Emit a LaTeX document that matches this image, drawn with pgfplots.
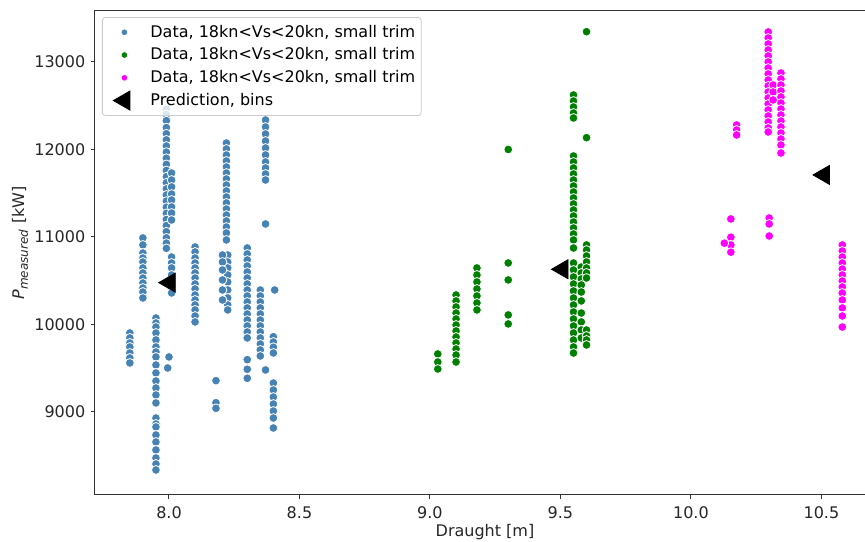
\documentclass[border=0pt]{standalone}
\usepackage{fontspec}
\setmainfont{DejaVu Sans}
\usepackage{pgfplots}
\pgfplotsset{compat=1.18}
\definecolor{sblue}{HTML}{4682B4}
\definecolor{dgreen}{HTML}{008000}
\definecolor{mag}{HTML}{FF00FF}
\begin{document}
\fontsize{8}{9.6}\selectfont
\begin{tikzpicture}
\begin{axis}[
  name=ax,
  scale only axis,
  width=385pt, height=242.5pt,
  xmin=7.7165, xmax=10.667,
  ymin=8051, ymax=13594,
  separate axis lines,
  axis x line=box, axis y line=left,
  axis line style={-, draw=black!80, line width=0.5pt},
  xtick={8,8.5,9,9.5,10,10.5},
  ytick={9000,10000,11000,12000,13000},
  xtick pos=left, ytick pos=left,
  tick align=outside, major tick length=2pt,
  tick style={black!80, line width=0.5pt},
  scaled ticks=false,
  /pgf/number format/assume math mode=true,
  xticklabel style={/pgf/number format/fixed, /pgf/number format/fixed zerofill, /pgf/number format/precision=1, yshift=-1pt},
  yticklabel style={/pgf/number format/1000 sep={}},
  ticklabel style={font=\fontsize{8}{9.6}\selectfont, text=black!85},
  xlabel={Draught [m]},
  ylabel={\textit{P}\textsubscript{\textit{measured}} [kW]},
  xlabel style={at={(axis description cs:0.5065,-0.0763)}, anchor=center, font=\fontsize{8}{9.6}\selectfont, text=black!85},
  ylabel style={at={(axis description cs:-0.0974,0.52)}, anchor=center, rotate=0, font=\fontsize{8}{9.6}\selectfont, text=black!85},
  legend cell align=left,
  legend image code/.code={\path[draw=none,fill=none] (0pt,0pt) -- (21pt,0pt); \draw[#1,opacity=1] plot coordinates {(10pt,0pt)};},
  legend style={at={(axis description cs:0,1)}, anchor=north west, xshift=3.5pt, yshift=-3.5pt,
    draw=black!20, rounded corners=1.5pt, fill=white, fill opacity=0.8, text opacity=1,
    font=\fontsize{8}{9.6}\selectfont, row sep=0.1pt, inner xsep=1pt, inner ysep=1.8pt},
]
% blue series
\addplot[only marks, mark=*, mark size=2.2pt, color=sblue,
  mark options={draw=white, fill=sblue, line width=0.4pt},
  legend image post style={mark size=1.7pt}] coordinates {
(7.85,9903) (7.85,9846) (7.85,9789) (7.85,9743) (7.85,9674) (7.85,9617) (7.85,9560)
(7.90,10989) (7.90,10909) (7.90,10817) (7.90,10760) (7.90,10714) (7.90,10646) (7.90,10589)
(7.90,10531) (7.90,10474) (7.90,10417) (7.90,10371) (7.90,10303)
(7.95,10074) (7.95,10017) (7.95,9971) (7.95,9903) (7.95,9823) (7.95,9743) (7.95,9686)
(7.95,9629) (7.95,9537) (7.95,9446) (7.95,9354) (7.95,9274) (7.95,9194) (7.95,9103)
(7.95,8931) (7.95,8863) (7.95,8829) (7.95,8737) (7.95,8657) (7.95,8566) (7.95,8474)
(7.95,8406) (7.95,8337)
(7.99,12460) (7.99,12400) (7.99,12330) (7.99,12250) (7.99,12180) (7.99,12110) (7.99,12040)
(7.99,11970) (7.99,11900) (7.99,11830) (7.99,11760) (7.99,11690) (7.99,11620) (7.99,11550)
(7.99,11480) (7.99,11410) (7.99,11340) (7.99,11270) (7.99,11200) (7.99,11130) (7.99,11060)
(7.99,10990) (7.99,10930) (7.99,10870)
(8.01,11731) (8.01,11651) (8.01,11572) (8.01,11491) (8.01,11423) (8.01,11343) (8.01,11274)
(8.01,11194) (8.01,10771) (8.01,10703) (8.01,10646) (8.01,10566) (8.01,10474) (8.01,10417)
(8.01,10360)
(8.00,9629) (7.995,9503)
(8.10,10886) (8.10,10829) (8.10,10760) (8.10,10703) (8.10,10646) (8.10,10589) (8.10,10531)
(8.10,10463) (8.10,10406) (8.10,10337) (8.10,10280) (8.10,10223) (8.10,10166) (8.10,10097)
(8.10,10029)
(8.18,9358) (8.18,9106) (8.18,9042)
(8.22,12074) (8.22,12006) (8.22,11937) (8.22,11869) (8.22,11800) (8.22,11731) (8.22,11663)
(8.22,11594) (8.22,11526) (8.22,11457) (8.22,11389) (8.22,11320) (8.22,11251) (8.22,11183)
(8.22,11114) (8.22,11046) (8.22,10966) (8.225,10794) (8.225,10714) (8.225,10646) (8.225,10566)
(8.225,10486) (8.225,10394) (8.225,10303) (8.225,10223) (8.225,10166)
(8.205,10794) (8.205,10714) (8.205,10623) (8.205,10509) (8.205,10394) (8.205,10280)
(8.30,10874) (8.30,10806) (8.30,10737) (8.30,10669) (8.30,10600) (8.30,10531) (8.30,10463)
(8.30,10394) (8.30,10326) (8.30,10257) (8.30,10189) (8.30,10120) (8.30,10051) (8.30,9983)
(8.30,9914) (8.30,9846) (8.30,9598) (8.30,9488) (8.30,9385)
(8.35,10394) (8.35,10326) (8.35,10257) (8.35,10189) (8.35,10120) (8.35,10051) (8.35,9983)
(8.35,9914) (8.35,9846) (8.35,9777) (8.35,9709) (8.35,9640)
(8.37,12337) (8.37,12257) (8.37,12177) (8.37,12097) (8.37,12017) (8.37,11937) (8.37,11857)
(8.37,11789) (8.37,11720) (8.37,11651) (8.37,11149) (8.37,9480)
(8.405,10394)
(8.40,9860) (8.40,9800) (8.40,9740) (8.40,9674) (8.40,9331) (8.40,9251) (8.40,9171)
(8.40,9091) (8.40,9011) (8.40,8931) (8.40,8817)
};
\addlegendentry{Data, 18kn<Vs<20kn, small trim}
% green series
\addplot[only marks, mark=*, mark size=2.2pt, color=dgreen,
  mark options={draw=white, fill=dgreen, line width=0.4pt},
  legend image post style={mark size=1.7pt}] coordinates {
(9.03,9663) (9.03,9571) (9.03,9491)
(9.10,10337) (9.10,10269) (9.10,10200) (9.10,10131) (9.10,10063) (9.10,9994) (9.10,9926)
(9.10,9857) (9.10,9789) (9.10,9720) (9.10,9651) (9.10,9571)
(9.18,10646) (9.18,10566) (9.18,10486) (9.18,10406) (9.18,10326) (9.18,10246) (9.18,10166)
(9.30,12000) (9.30,10703) (9.30,10509) (9.30,10109) (9.30,10006)
(9.55,12623) (9.55,12554) (9.55,12486) (9.55,12417) (9.55,12360)
(9.55,11926) (9.55,11857) (9.55,11789) (9.55,11720) (9.55,11651) (9.55,11583) (9.55,11514)
(9.55,11446) (9.55,11377) (9.55,11309) (9.55,11240) (9.55,11171) (9.55,11103) (9.55,11034)
(9.55,10966) (9.55,10874)
(9.55,10703) (9.55,10623) (9.55,10543) (9.55,10463) (9.55,10383) (9.55,10303) (9.55,10223)
(9.55,10143) (9.55,10063) (9.55,9983) (9.55,9903) (9.55,9823) (9.55,9743) (9.55,9674)
(9.58,10657) (9.58,10589) (9.58,10520) (9.58,10451) (9.58,10371) (9.58,10269) (9.58,10131)
(9.58,10029) (9.58,9937) (9.58,9846)
(9.60,13346) (9.60,12135)
(9.60,10909) (9.60,10851) (9.60,10783) (9.60,10714) (9.60,10646) (9.60,10589) (9.60,10531)
(9.60,9937) (9.60,9869) (9.60,9823) (9.60,9766)
};
\addlegendentry{Data, 18kn<Vs<20kn, small trim}
% magenta series
\addplot[only marks, mark=*, mark size=2.2pt, color=mag,
  mark options={draw=white, fill=mag, line width=0.4pt},
  legend image post style={mark size=1.7pt}] coordinates {
(10.175,12280) (10.175,12223) (10.175,12166)
(10.153,11206) (10.153,10997) (10.153,10909) (10.153,10826) (10.128,10929)
(10.296,13343) (10.296,13274) (10.296,13206) (10.296,13137) (10.296,13069) (10.296,13000)
(10.296,12931) (10.296,12863) (10.296,12794) (10.296,12726) (10.296,12657) (10.296,12589)
(10.296,12520) (10.296,12451) (10.296,12383) (10.296,12314) (10.296,12246) (10.296,12200)
(10.315,12737) (10.315,12657) (10.315,12566)
(10.345,12874) (10.345,12806) (10.345,12737) (10.345,12669) (10.345,12600) (10.345,12531)
(10.345,12463) (10.345,12394) (10.345,12326) (10.345,12257) (10.345,12189) (10.345,12120)
(10.345,12051) (10.345,11960)
(10.30,11217) (10.30,11149) (10.30,11011)
(10.58,10909) (10.58,10840) (10.58,10771) (10.58,10703) (10.58,10634) (10.58,10566)
(10.58,10497) (10.58,10429) (10.58,10360) (10.58,10280) (10.58,10189) (10.58,10097)
(10.58,9971)
};
\addlegendentry{Data, 18kn<Vs<20kn, small trim}
% predictions
\addplot[only marks, mark=triangle*, mark size=5.5pt, color=black,
  mark options={rotate=90, fill=black}] coordinates {
(8.003,10478) (9.508,10631) (10.51,11709)
};
\addlegendentry{Prediction, bins}
\end{axis}
\pgfresetboundingbox
\path[use as bounding box] ([xshift=-47.5pt,yshift=-23.5pt]ax.south west) rectangle ([yshift=5pt]ax.north east);
\end{tikzpicture}
\end{document}
